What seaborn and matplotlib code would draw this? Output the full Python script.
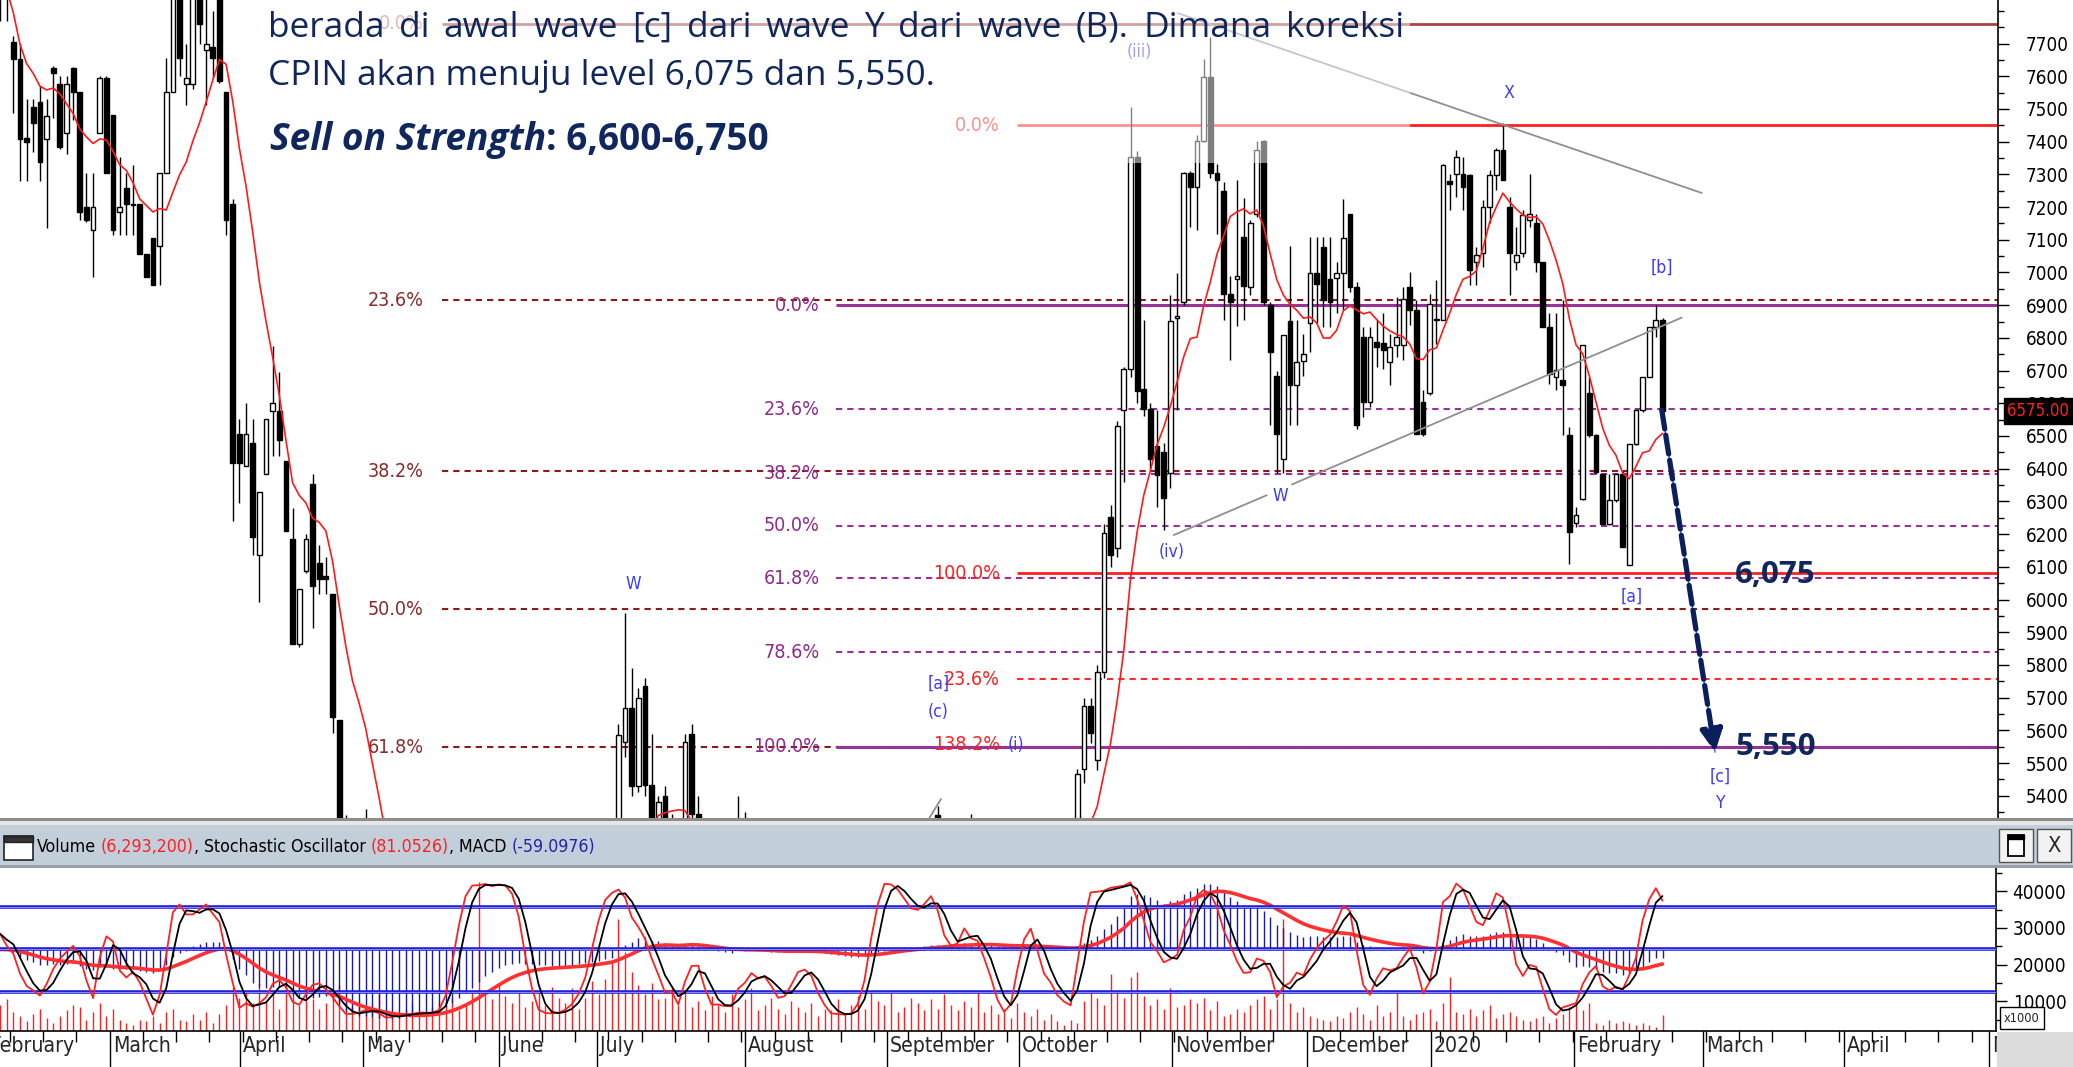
import numpy as np
import pandas as pd
import matplotlib
matplotlib.use("Agg")
import matplotlib.pyplot as plt
import matplotlib.font_manager as fm
from matplotlib.patches import Rectangle
from matplotlib.transforms import blended_transform_factory as blend
import seaborn as sns

# ---- CPIN daily candles, Feb 2019 - Feb 2020 (one row = 10 bars) ----
opens = [
    7900, 7870, 7705, 7654, 7410, 7505, 7521, 7409, 7625, 7577,
    7425, 7625, 7553, 7201, 7129, 7425, 7596, 7481, 7185, 7257,
    7209, 7209, 7057, 7105, 7081, 7305, 7553, 7850, 7577, 7577,
    7850, 7681, 7690, 7850, 7553, 7209, 6505, 6408, 6480, 6136,
    6384, 6576, 6576, 6424, 6184, 5864, 6088, 6352, 6112, 6072,
    6016, 5632, 5250, 5230, 5150, 5180, 5250, 5120, 5000, 4950,
    4880, 4900, 4820, 4760, 4800, 4720, 4700, 4750, 4800, 4900,
    5000, 5080, 5150, 5250, 5300, 5260, 5310, 5290, 5180, 5100,
    5020, 4980, 4950, 4920, 4900, 4900, 4920, 4940, 4960, 4980,
    5000, 5020, 5050, 5080, 5565, 5669, 5430, 5735, 5434, 5050,
    5400, 5320, 5100, 5120, 5590, 5345, 5100, 5080, 5310, 5100,
    5080, 5100, 5330, 5150, 5220, 5180, 5120, 5080, 5100, 5140,
    5180, 5200, 5150, 5100, 5060, 5030, 5000, 4980, 4960, 4950,
    5000, 5080, 5150, 5200, 5240, 5260, 5230, 5200, 5190, 5220,
    5250, 5340, 5260, 5250, 5310, 5280, 5300, 5270, 5280, 5260,
    5230, 5200, 5180, 5260, 5300, 5290, 5250, 5220, 5200, 5210,
    5180, 5170, 5200, 5483, 5674, 5510, 5778, 6253, 6157, 6580,
    6705, 7353, 6645, 6583, 6470, 6452, 6387, 6860, 6911, 7304,
    7260, 7402, 7599, 7304, 7250, 6933, 6980, 7108, 6955, 7178,
    7402, 6900, 6682, 6430, 6851, 6655, 6730, 6845, 6998, 7078,
    6981, 6982, 6997, 7180, 6956, 6803, 6605, 6788, 6783, 6727,
    6778, 6778, 6956, 6885, 6604, 6630, 6854, 6854, 7281, 7302,
    7302, 7297, 7032, 7058, 7200, 7297, 7374, 7200, 7032, 7058,
    7160, 7150, 7032, 6833, 6681, 6670, 6502, 6233, 6308, 6630,
    6502, 6385, 6232, 6303, 6385, 6105, 6477, 6579, 6681, 6834,
    6854,
]
highs = [
    7950, 7920, 7724, 7697, 7529, 7529, 7569, 7529, 7630, 7601,
    7601, 7628, 7553, 7305, 7305, 7601, 7601, 7481, 7353, 7305,
    7329, 7209, 7057, 7105, 7305, 7657, 7950, 7900, 7697, 7950,
    7950, 7850, 7800, 7950, 7553, 7225, 6552, 6600, 6552, 6328,
    6552, 6776, 6696, 6424, 6280, 6032, 6200, 6384, 6168, 6130,
    6016, 5632, 5340, 5260, 5220, 5360, 5270, 5140, 5040, 4980,
    4930, 4920, 4840, 4820, 4810, 4740, 4770, 4820, 4920, 5020,
    5100, 5170, 5280, 5315, 5310, 5318, 5318, 5300, 5190, 5110,
    5040, 5000, 4970, 4940, 4930, 4940, 4960, 4980, 5000, 5020,
    5040, 5070, 5100, 5620, 5958, 5790, 5730, 5760, 5590, 5400,
    5430, 5345, 5150, 5590, 5620, 5400, 5120, 5100, 5330, 5120,
    5120, 5400, 5350, 5240, 5240, 5190, 5130, 5120, 5150, 5200,
    5220, 5210, 5160, 5110, 5070, 5040, 5010, 4990, 4970, 5010,
    5090, 5160, 5210, 5250, 5280, 5270, 5240, 5210, 5230, 5260,
    5290, 5370, 5280, 5320, 5320, 5320, 5345, 5300, 5290, 5270,
    5240, 5210, 5230, 5320, 5310, 5300, 5260, 5230, 5220, 5220,
    5190, 5200, 5483, 5700, 5700, 5800, 6230, 6290, 6545, 6710,
    7506, 7370, 6856, 6600, 6578, 6480, 6930, 6998, 7306, 7310,
    7420, 7654, 7720, 7331, 7277, 6988, 7282, 7228, 7160, 7402,
    7405, 6911, 6700, 6808, 7080, 6856, 6813, 7108, 7108, 7108,
    7108, 7033, 7226, 7180, 6970, 6833, 6833, 6855, 6875, 6813,
    6925, 6956, 7002, 6915, 6640, 6935, 6976, 7333, 7302, 7374,
    7354, 7302, 7078, 7221, 7313, 7379, 7456, 7231, 7140, 7190,
    7302, 7180, 7032, 6875, 6875, 6915, 6528, 6283, 6778, 6681,
    6507, 6385, 6385, 6385, 6395, 6477, 6579, 6681, 6834, 6900,
    6860,
]
lows = [
    7770, 7770, 7489, 7281, 7281, 7369, 7281, 7137, 7473, 7377,
    7361, 7465, 7161, 7153, 6985, 7425, 7305, 7113, 7113, 7113,
    7113, 7057, 6985, 6961, 6961, 7305, 7553, 7601, 7513, 7560,
    7700, 7513, 7593, 7580, 7113, 6240, 6296, 6408, 6136, 5992,
    6384, 6440, 6440, 6208, 5864, 5856, 6080, 5912, 6016, 6016,
    5592, 5200, 5150, 5100, 5100, 5150, 5100, 4980, 4920, 4850,
    4850, 4800, 4740, 4740, 4700, 4680, 4680, 4730, 4790, 4880,
    4980, 5060, 5120, 5230, 5240, 5250, 5260, 5160, 5080, 5000,
    4960, 4930, 4900, 4880, 4870, 4890, 4910, 4930, 4950, 4970,
    4990, 5010, 5040, 5060, 5520, 5400, 5410, 5400, 5000, 5020,
    5080, 5080, 5080, 5100, 5320, 5080, 5050, 5040, 5080, 5050,
    5060, 5090, 5140, 5140, 5160, 5100, 5060, 5070, 5090, 5130,
    5170, 5140, 5090, 5050, 5020, 4990, 4970, 4950, 4930, 4940,
    4990, 5070, 5140, 5190, 5230, 5220, 5190, 5180, 5180, 5210,
    5240, 5250, 5230, 5240, 5270, 5270, 5260, 5250, 5240, 5220,
    5190, 5170, 5170, 5250, 5270, 5240, 5210, 5190, 5190, 5170,
    5160, 5160, 5150, 5440, 5560, 5480, 5760, 6100, 6130, 6360,
    6680, 6600, 6560, 6400, 6283, 6212, 6340, 6580, 6900, 7140,
    7130, 7400, 7290, 7119, 6856, 6731, 6835, 6856, 6930, 7170,
    6900, 6534, 6387, 6387, 6534, 6534, 6682, 6758, 6845, 6833,
    6833, 6875, 6885, 6940, 6520, 6558, 6590, 6712, 6706, 6655,
    6742, 6732, 6839, 6507, 6500, 6625, 6780, 6854, 7190, 7231,
    7190, 6961, 6961, 7017, 7150, 7252, 7282, 6931, 7007, 7048,
    7140, 7002, 6833, 6660, 6640, 6502, 6110, 6222, 6303, 6497,
    6385, 6227, 6227, 6298, 6161, 6105, 6472, 6574, 6681, 6803,
    6575,
]
closes = [
    7880, 7850, 7654, 7409, 7400, 7457, 7337, 7478, 7609, 7385,
    7577, 7553, 7185, 7161, 7201, 7596, 7305, 7129, 7201, 7209,
    7205, 7057, 6985, 6961, 7305, 7553, 7850, 7657, 7593, 7850,
    7761, 7697, 7657, 7585, 7161, 6416, 6416, 6505, 6192, 6328,
    6552, 6600, 6488, 6208, 5864, 6032, 6184, 6040, 6064, 6064,
    5640, 5250, 5230, 5150, 5180, 5250, 5120, 5000, 4950, 4880,
    4900, 4820, 4760, 4800, 4720, 4700, 4750, 4800, 4900, 5000,
    5080, 5150, 5250, 5300, 5260, 5310, 5290, 5180, 5100, 5020,
    4980, 4950, 4920, 4900, 4900, 4920, 4940, 4960, 4980, 5000,
    5020, 5050, 5080, 5587, 5669, 5430, 5700, 5434, 5050, 5380,
    5100, 5100, 5120, 5564, 5345, 5100, 5080, 5060, 5100, 5080,
    5100, 5330, 5150, 5220, 5180, 5120, 5080, 5100, 5140, 5180,
    5200, 5150, 5100, 5060, 5030, 5000, 4980, 4960, 4950, 5000,
    5080, 5150, 5200, 5240, 5260, 5230, 5200, 5190, 5220, 5250,
    5270, 5260, 5250, 5310, 5290, 5310, 5270, 5280, 5260, 5230,
    5200, 5180, 5210, 5310, 5290, 5250, 5220, 5200, 5210, 5180,
    5170, 5190, 5467, 5674, 5592, 5778, 6203, 6136, 6530, 6705,
    7353, 6638, 6583, 6431, 6380, 6311, 6851, 6866, 7304, 7260,
    7402, 7599, 7304, 7282, 6933, 6911, 6990, 6960, 7152, 7375,
    6911, 6758, 6507, 6808, 6655, 6726, 6750, 6998, 6966, 6915,
    6910, 6998, 7104, 6956, 6533, 6605, 6803, 6773, 6762, 6772,
    6803, 6920, 6885, 6507, 6507, 6905, 6855, 7328, 7270, 7354,
    7262, 7007, 7053, 7200, 7297, 7374, 7282, 7058, 7053, 7175,
    7180, 7032, 6833, 6691, 6701, 6655, 6207, 6258, 6778, 6502,
    6390, 6232, 6303, 6385, 6161, 6477, 6579, 6681, 6834, 6854,
    6575,
]
volumes = [  # x1000 shares
    9000, 10500, 7000, 6000, 4500, 6500, 8000, 5500, 4000, 6000,
    7500, 9000, 8500, 5000, 7000, 9500, 6000, 8000, 5000, 4000,
    3500, 5000, 4500, 6000, 4000, 7000, 8000, 5000, 4500, 6500,
    5000, 7000, 4000, 6500, 9000, 14000, 11000, 12500, 9500, 15000,
    10000, 12000, 8000, 13000, 11500, 9000, 14000, 10500, 8000, 9500,
    12500, 14500, 11000, 8500, 10000, 7500, 9000, 12000, 8000, 7000,
    6500, 8000, 9500, 7000, 6000, 8500, 10000, 9000, 11000, 7500,
    9000, 13000, 42500, 12000, 10500, 15000, 11500, 9500, 13000, 8500,
    10000, 12500, 9000, 14000, 11000, 9500, 13500, 8000, 11000, 15500,
    12000, 16000, 21000, 32500, 23500, 18000, 14500, 12000, 15000, 10500,
    11000, 13500, 9000, 12500, 8500, 10000, 7500, 11500, 9000, 7000,
    12000, 8500, 10500, 13500, 7500, 9000, 11000, 8000, 6500, 10000,
    8500, 7000, 9500, 6000, 8000, 7500, 10500, 6500, 9000, 11500,
    8000, 12500, 10000, 9000, 13000, 7000, 8500, 11000, 9500, 7500,
    10500, 8000, 12000, 9000, 7500, 10000, 8500, 13000, 7000, 9000,
    6500, 8000, 5500, 9500, 7000, 6000, 8000, 5000, 6500, 4500,
    3500, 5000, 4000, 10000, 12500, 11000, 9000, 17500, 12500, 11000,
    16500, 18000, 11500, 9000, 10500, 8000, 13500, 8500, 9000, 10500,
    9500, 11000, 7500, 10000, 6000, 6500, 8000, 7000, 9000, 10500,
    11500, 8000, 10500, 32500, 9500, 7000, 8500, 6000, 5500, 5000,
    4500, 6000, 5500, 7000, 8500, 6500, 5000, 9000, 6000, 7000,
    12500, 6000, 5000, 6500, 7000, 8000, 4500, 9500, 16500, 7000,
    6500, 8000, 6000, 7500, 9000, 5500, 6500, 7000, 6000, 5000,
    4500, 5500, 6000, 4000, 5500, 6500, 8500, 9000, 7500, 9500,
    4000, 3500, 5000, 4000, 4500, 4000, 3500, 4000, 3500, 3000,
    6293,
]

month_names = ["February", "March", "April", "May", "June", "July", "August",
               "September", "October", "November", "December", "2020",
               "February", "March", "April", "M"]
month_pos = [-2.0, 16.5, 36.1, 54.6, 75.0, 89.8, 112.0, 133.4, 153.2, 176.2,
             196.5, 215.2, 236.7, 256.1, 277.3, 299.1]

# fibonacci sets
outer_hi, outer_lo = 7760, 4180
outer_ratio = [0.0, 23.6, 38.2, 50.0, 61.8]
inner_hi, inner_lo = 6900, 5550
inner_ratio = [0.0, 23.6, 38.2, 50.0, 61.8, 78.6, 100.0]
ext_a, ext_b = 7450, 6080
ext_ratio = [0.0, 100.0, 123.6, 138.2]
ext_label = ["0.0%", "100.0%", "23.6%", "138.2%"]

wave_text = ["(iii)", "X", "[b]", "W", "(iv)", "W", "[a]", "[a]", "(c)", "(i)", "[c]", "Y"]
wave_bar = [171.3, 226.9, 249.9, 192.5, 176.2, 95.2, 245.3, 141.1, 141.1, 152.8, 258.6, 258.6]
wave_price = [7674, 7549, 7014, 6316, 6145, 6047, 6010, 5744, 5655, 5555, 5458, 5378]

trend_x = [(177.1, 255.9), (176.5, 190.5), (194.3, 252.9), (138.5, 141.5)]
trend_y = [(7793, 7243), (6197, 6319), (6352, 6862), (5290, 5390)]

arrow_x = (249.9, 257.9)
arrow_y = (6579, 5533)
targets = [6075, 5550]
last_price = 6575.00
stoch_levels = [20, 50, 80]

# ---- indicators ----
df = pd.DataFrame({"open": opens, "high": highs, "low": lows,
                   "close": closes, "volume": volumes})
df["bar"] = np.arange(len(df))
df["ma"] = df["close"].rolling(10, min_periods=1).mean()
ll = df["low"].rolling(10, min_periods=1).min()
hh = df["high"].rolling(10, min_periods=1).max()
raw_k = (100 * (df["close"] - ll) / (hh - ll).replace(0, np.nan)).fillna(50)
df["k"] = raw_k.rolling(3, min_periods=1).mean()
df["d"] = df["k"].rolling(3, min_periods=1).mean()
ema12 = df["close"].ewm(span=12, adjust=False).mean()
ema26 = df["close"].ewm(span=26, adjust=False).mean()
df["macd"] = ema12 - ema26
df["signal"] = df["macd"].ewm(span=9, adjust=False).mean()

# ---- style ----
W, H = 2073, 1067
PX = 6.65  # pixels per trading day
sns.set_theme(style="white")
_fonts = fm.fontManager.ttflist
_names = {f.name for f in _fonts}
if "Liberation Sans Narrow" in _names:
    NARROW, STRETCH = "Liberation Sans Narrow", "normal"
elif any(f.name == "DejaVu Sans" and f.stretch == "condensed" for f in _fonts):
    NARROW, STRETCH = "DejaVu Sans", "condensed"
else:
    NARROW, STRETCH = "DejaVu Sans", "normal"
BODY = "Open Sans" if "Open Sans" in _names else "DejaVu Sans"
plt.rcParams["font.family"] = [NARROW, "DejaVu Sans"]
plt.rcParams["font.stretch"] = STRETCH
NAVY = "#10275e"
WAVE = "#3a3aff"

fig = plt.figure(figsize=(W / 100, H / 100), dpi=100)
fig.patch.set_facecolor("white")
renderer = fig.canvas.get_renderer()


def fig_rect(x, y, w, h, **kw):
    r = Rectangle((x / W, 1 - (y + h) / H), w / W, h / H,
                  transform=fig.transFigure, **kw)
    fig.add_artist(r)
    return r


def text_w(s, **kw):
    t = fig.text(0, 0, s, **kw)
    w = t.get_window_extent(renderer).width
    t.remove()
    return w


def fit(s, px, **kw):
    return 20 * px / text_w(s, size=20, **kw)


F_PRICE = fit("7700", 43)
F_FIB = fit("23.6%", 56)
F_WAVE = fit("(iv)", 26)
F_MONTH = fit("February", 84)
F_HDR = fit("Volume (6,293,200), Stochastic Oscillator (81.0526), MACD (-59.0976)", 558)

# ---- main price panel ----
ax = fig.add_axes([0, 1 - 818 / H, 1998 / W, 818 / H])
ax.set_xlim(0, 1998 / PX)
ax.set_ylim(5332, 7833)

up = df["close"] >= df["open"]
body_lo = df[["open", "close"]].min(axis=1)
body_h = (df["close"] - df["open"]).abs().clip(lower=5)
ax.vlines(df["bar"], df["low"], df["high"], color="black", lw=1.0, zorder=2)
ax.bar(df["bar"][up], body_h[up], bottom=body_lo[up], width=0.72,
       facecolor="white", edgecolor="black", linewidth=1.0, zorder=3)
ax.bar(df["bar"][~up], body_h[~up], bottom=body_lo[~up], width=0.72,
       facecolor="black", edgecolor="black", linewidth=1.0, zorder=3)
sns.lineplot(data=df, x="bar", y="ma", ax=ax, color="#ff1a1a",
             linewidth=1.2, zorder=4, legend=False)

xmax = 1998 / PX
dash = (0, (3, 2.4))
# outer (dark red) retracement
for r in outer_ratio:
    lvl = outer_hi - r / 100 * (outer_hi - outer_lo)
    if r == 0:
        ax.hlines(lvl, 442 / PX, xmax, color="#a84444", lw=2.0, zorder=1.5)
    else:
        ax.hlines(lvl, 442 / PX, xmax, color="#8b1a1a", lw=1.5,
                  linestyle=dash, zorder=1.5)
    ax.text(424 / PX, lvl, f"{r:.1f}%", ha="right", va="center",
            color="#8b2a2a" if r else "#d07070", size=F_FIB)
# inner (purple) retracement
for r in inner_ratio:
    lvl = inner_hi - r / 100 * (inner_hi - inner_lo)
    if r in (0.0, 100.0):
        ax.hlines(lvl, 836 / PX, xmax, color="#993399", lw=2.2, zorder=1.6)
    else:
        ax.hlines(lvl, 836 / PX, xmax, color="#9b309b", lw=1.5,
                  linestyle=dash, zorder=1.6)
    ax.text(820 / PX, lvl, f"{r:.1f}%", ha="right", va="center",
            color="#8e2a8e", size=F_FIB, zorder=2.5)
# red extension
for r, lab in zip(ext_ratio, ext_label):
    lvl = ext_a - r / 100 * (ext_a - ext_b)
    if r in (0.0, 100.0):
        ax.hlines(lvl, 1017 / PX, xmax, color="#ff2020", lw=2.0, zorder=1.7)
    elif r < 130:
        ax.hlines(lvl, 1017 / PX, xmax, color="#ff2a2a", lw=1.5,
                  linestyle=dash, zorder=1.7)
    ax.text(1000 / PX, lvl, lab, ha="right", va="center",
            color="#ff2020", size=F_FIB, zorder=2.5)

for (x0, x1), (y0, y1) in zip(trend_x, trend_y):
    ax.plot([x0, x1], [y0, y1], color="#8f8f8f", lw=1.3, zorder=5)

for s, b, p in zip(wave_text, wave_bar, wave_price):
    ax.text(b, p, s, ha="center", va="center", color=WAVE, size=F_WAVE, zorder=6)

# projected move
ax.plot(arrow_x, arrow_y, color="#2f4cff", lw=0.9, zorder=6)
ax.annotate("", xy=(arrow_x[1], arrow_y[1]), xytext=(arrow_x[0], arrow_y[0]),
            arrowprops=dict(arrowstyle="-|>,head_length=1.1,head_width=0.55",
                            color="#0b1f5c", lw=3.8, linestyle=(0, (3.6, 1.2)),
                            shrinkA=0, shrinkB=0), zorder=7)
for lvl in targets:
    ax.text(1735 / PX, lvl, f"{lvl:,}", ha="left", va="center", color=NAVY,
            family=BODY, stretch="normal", weight="bold", size=22.5, zorder=7)

# faded text-box backdrop in the upper area
ax.add_patch(Rectangle((262 / PX, 7335), (1410 - 262) / PX, 700,
                       facecolor="white", edgecolor="none", alpha=0.5, zorder=8))

for sp in ["left", "top", "bottom"]:
    ax.spines[sp].set_visible(False)
ax.spines["right"].set_color("black")
ax.spines["right"].set_linewidth(1.2)
ax.set_xticks([])
ax.yaxis.tick_right()
ax.set_yticks(np.arange(5400, 7701, 100))
ax.set_yticks(np.arange(5350, 7801, 50), minor=True)
ax.tick_params(axis="y", which="major", right=True, left=False, labelright=True,
               labelleft=False, direction="out", length=8, width=1, pad=12,
               labelsize=F_PRICE, colors="black")
ax.tick_params(axis="y", which="minor", right=True, left=False,
               direction="out", length=4, width=1, colors="black")
ax.set_xlabel("")
ax.set_ylabel("")

# last-price tag on the axis (covers the 6600 label, as in the platform)
tag_y = 43.6 + (7700 - last_price) / 3.058  # pixel row of the last price
fig_rect(2004, tag_y - 13, 69, 26, facecolor="black", edgecolor="black", zorder=20)
fig.text(2038 / W, 1 - tag_y / H, f"{last_price:.2f}", ha="center", va="center",
         color="#ff2020", size=fit(f"{last_price:.2f}", 62), zorder=21)

# ---- indicator panel ----
ax2 = fig.add_axes([0, 1 - 1031 / H, 1996 / W, 163 / H])
ax2.set_ylim(1884, 46350)
ax2.vlines(df["bar"], 0, df["volume"], color="#ff1f1f", lw=1.0, zorder=2)

axm = ax2.twinx()
axm.vlines(df["bar"], 0, df["macd"], color="#1a1aa6", lw=1.0)
sns.lineplot(x=df["bar"], y=df["signal"], ax=axm, color="#ff3030",
             linewidth=2.6, legend=False)
axm.set_ylim(-600, 600)
axm.set_axis_off()

axs = ax2.twinx()
for lvl in stoch_levels:
    axs.axhline(lvl, color="#2020dd", lw=2.6)
    axs.axhline(lvl, color="#8c8cff", lw=0.7)
sns.lineplot(x=df["bar"], y=df["k"], ax=axs, color="#ff2020", linewidth=1.3, legend=False)
sns.lineplot(x=df["bar"], y=df["d"], ax=axs, color="black", linewidth=1.3, legend=False)
axs.set_ylim(-7.55, 107.5)
axs.set_axis_off()
ax2.set_xlim(0, 1996 / PX)

for sp in ["left", "top"]:
    ax2.spines[sp].set_visible(False)
for sp in ["right", "bottom"]:
    ax2.spines[sp].set_color("black")
    ax2.spines[sp].set_linewidth(1.2)
ax2.yaxis.tick_right()
ax2.set_yticks([10000, 20000, 30000, 40000])
ax2.set_yticks(np.arange(5000, 46000, 5000), minor=True)
ax2.tick_params(axis="y", which="major", right=True, left=False, labelright=True,
                labelleft=False, direction="out", length=8, width=1, pad=4,
                labelsize=F_PRICE, colors="black")
ax2.tick_params(axis="y", which="minor", right=True, left=False,
                direction="out", length=4, width=1, colors="black")
ax2.set_xticks([p for p in month_pos if p >= 0])
ax2.set_xticks(np.arange(1.5, 300, 5), minor=True)
ax2.tick_params(axis="x", which="major", bottom=True, direction="out",
                length=26, width=1, labelbottom=False, colors="black")
ax2.tick_params(axis="x", which="minor", bottom=True, direction="out",
                length=8, width=1, colors="black")
ax2.set_xlabel("")
ax2.set_ylabel("")
tr2 = blend(ax2.transData, ax2.transAxes)
for name, pos in zip(month_names, month_pos):
    ax2.text(pos + 0.45, -0.03, name, transform=tr2, ha="left", va="top",
             size=F_MONTH, clip_on=False)

# ---- window chrome ----
fig_rect(0, 818, W, 3, facecolor="#8c8c8c", edgecolor="none")
fig_rect(0, 821, W, 4, facecolor="#e6e6e6", edgecolor="none")
fig_rect(0, 825, W, 40, facecolor="#c3cedb", edgecolor="none")
fig_rect(0, 865, W, 3, facecolor="#9aa0a8", edgecolor="none")
fig_rect(4, 836, 29, 24, facecolor="white", edgecolor="#222222", lw=1.2)
fig_rect(4, 836, 29, 6, facecolor="#333333", edgecolor="#222222", lw=1.0)
fig_rect(1999, 829, 34, 33, facecolor="#f2f2f2", edgecolor="#555555", lw=1.0)
fig_rect(2037, 829, 34, 33, facecolor="#f2f2f2", edgecolor="#555555", lw=1.0)
fig_rect(2008, 835, 16, 21, facecolor="white", edgecolor="black", lw=1.3)
fig_rect(2008, 835, 16, 4, facecolor="black", edgecolor="black", lw=1.0)
fig.text(2054 / W, 1 - 846 / H, "X", ha="center", va="center", size=F_PRICE * 1.15)
fig_rect(1997, 1032, 76, 35, facecolor="#dcdcdc", edgecolor="none", zorder=10)
fig_rect(2000, 1007, 44, 22, facecolor="white", edgecolor="black", lw=1.0, zorder=10)
fig.text(2022 / W, 1 - 1018 / H, "x1000", ha="center", va="center",
         size=fit("x1000", 36), zorder=11)

# header legend line
sp_w = text_w("a a", size=F_HDR) - text_w("aa", size=F_HDR)
parts = [("Volume", "black", True), ("(6,293,200)", "#ff2020", False),
         (", Stochastic Oscillator", "black", True), ("(81.0526)", "#ff2020", False),
         (", MACD", "black", True), ("(-59.0976)", "#2222aa", False)]
x = 37
for s, col, space_after in parts:
    t = fig.text(x / W, 1 - 852 / H, s, color=col, size=F_HDR,
                 ha="left", va="baseline")
    x += t.get_window_extent(renderer).width + (sp_w if space_after else 0)

# ---- commentary text ----
body_kw = dict(family=BODY, stretch="normal")
line1 = "berada di awal wave [c] dari wave Y dari wave (B). Dimana koreksi"
line2 = "CPIN akan menuju level 6,075 dan 5,550."
fs = fit(line2, 666, **body_kw)
words = line1.split(" ")
ww = [text_w(w, size=fs, **body_kw) for w in words]
gap = (1136 - sum(ww)) / (len(words) - 1)
x = 268
for w, wd in zip(words, ww):
    fig.text(x / W, 1 - 37 / H, w, size=fs, color=NAVY,
             ha="left", va="baseline", zorder=12, **body_kw)
    x += wd + gap
fig.text(268 / W, 1 - 85 / H, line2, size=fs, color=NAVY,
         ha="left", va="baseline", zorder=12, **body_kw)

s1, s2 = "Sell on Strength", ": 6,600-6,750"
w1 = text_w(s1, size=20, weight="bold", style="italic", **body_kw)
w2 = text_w(s2, size=20, weight="bold", **body_kw)
fb = 20 * 500 / (w1 + w2)
t1 = fig.text(270 / W, 1 - 150 / H, s1, size=fb, weight="bold",
              style="italic", color=NAVY, ha="left", va="baseline", zorder=12, **body_kw)
x = 270 + t1.get_window_extent(renderer).width
fig.text(x / W, 1 - 150 / H, s2, size=fb, weight="bold",
         color=NAVY, ha="left", va="baseline", zorder=12, **body_kw)

fig.savefig("out.png", dpi=100)
